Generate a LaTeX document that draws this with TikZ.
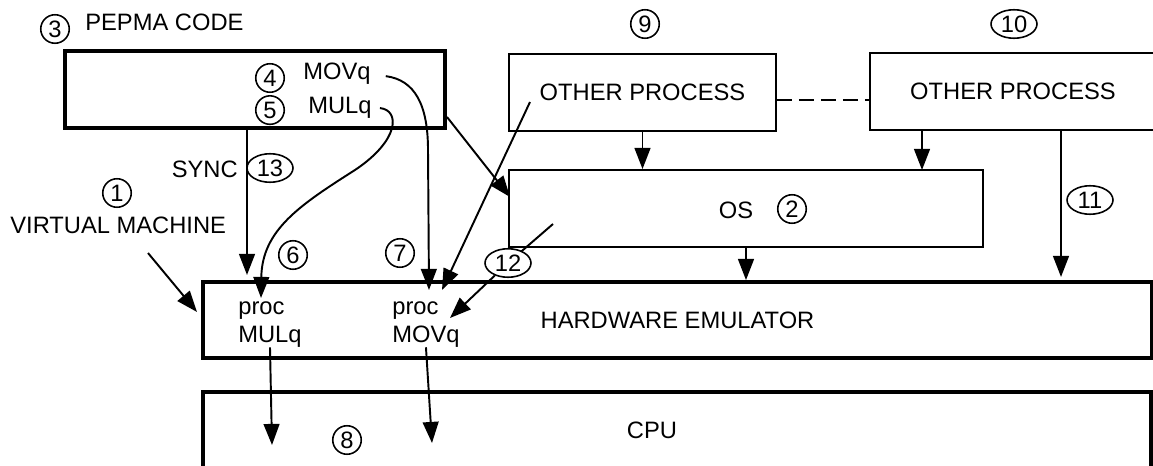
\documentclass[tikz,border=0pt]{standalone}
\usepackage{fontspec}
\setmainfont{Liberation Sans}
\usepackage{tikz}
\usetikzlibrary{arrows.meta, positioning, shapes.geometric}
\newcommand{\lblfont}{\fontsize{13.5}{15.4}\selectfont}

\begin{document}
\begin{tikzpicture}[
        x=0.02cm, y=-0.02cm,
        box/.style={
            rectangle,
            draw=black,
            line width=1.1pt,
            inner sep=0pt,
            align=center,
            font=\lblfont,
            minimum height=1.54cm
        },
        boxthick/.style={
            box,
            line width=2.2pt
        },
        txt/.style={
            inner sep=0pt,
            align=left,
            font=\lblfont
        },
        num/.style={
            circle,
            draw=black,
            line width=0.9pt,
            fill=white,
            inner sep=0pt,
            minimum size=0.57cm,
            font=\lblfont
        },
        numwide/.style={
            ellipse,
            draw=black,
            line width=0.9pt,
            fill=white,
            inner sep=0pt,
            minimum width=0.92cm,
            minimum height=0.57cm,
            font=\lblfont
        },
        arrow/.style={
            -{Triangle[length=12pt, width=9pt]},
            line width=1.1pt,
            draw=black
        },
        link/.style={
            line width=1.1pt,
            draw=black
        }
    ]
        \useasboundingbox (0,0) rectangle (1153,466);
        \clip (0,0) rectangle (1153,466);

        \node (pepma) [boxthick, minimum width=7.6cm] at (255,89.5) {};
        \node (other1) [box, minimum width=5.34cm] at (642.5,92.5) {OTHER PROCESS};
        \node (other2) [box, minimum width=5.72cm] at (1013,91.5) {OTHER PROCESS};
        \node (os) [box, minimum width=9.48cm] at (746,208.5) {};
        \node (hw) [boxthick, minimum width=18.98cm, minimum height=1.52cm] at (677.5,320) {HARDWARE EMULATOR};
        \node (cpu) [boxthick, minimum width=18.96cm, minimum height=2.16cm] at (677,446) {};

        \node (pepmalabel) [txt, anchor=base west] at (85,31) {PEPMA CODE};
        \node (movq) [txt, anchor=base west] at (303,80) {MOVq};
        \node (mulq) [txt, anchor=base west] at (308,113) {MULq};
        \node (sync) [txt, anchor=base east] at (238,177) {SYNC};
        \node (vm) [txt, anchor=base west] at (10,233) {VIRTUAL MACHINE};
        \node (procmul) [txt, anchor=base west] at (238,342) {proc\\MULq};
        \node (procmov) [txt, anchor=base west] at (392,342) {proc\\MOVq};
        \node (oslabel) [txt, anchor=base] at (736,218) {OS};
        \node (cpulabel) [txt, anchor=base] at (652,438) {CPU};

        \node (n1) [num] at (117,193) {1};
        \node (n2) [num] at (792,209) {2};
        \node (n3) [num] at (55,29) {3};
        \node (n4) [num] at (270,78) {4};
        \node (n5) [num, below=0.04cm of n4] {5};
        \node (n6) [num] at (293,255) {6};
        \node (n7) [num] at (400,253) {7};
        \node (n8) [num] at (347,440) {8};
        \node (n9) [num] at (645,24) {9};
        \node (n10) [numwide] at (1014,24) {10};
        \node (n11) [numwide] at (1090,200) {11};
        \node (n13) [numwide] at (270,168) {13};

        \coordinate (synctip) at (247,275);
        \coordinate (vmtail) at (148,253);
        \coordinate (vmtip) at (197,312);
        \coordinate (movtip) at (429,290);
        \coordinate (multip) at (261,298);
        \coordinate (pepout) at (447,117);
        \coordinate (osin) at (510,197);
        \coordinate (optail) at (530,102);
        \coordinate (optip) at (442,290);
        \coordinate (osstart) at (553,224);
        \coordinate (tip12) at (450,318);
        \coordinate (osin2) at (922,170);
        \coordinate (hwin11) at (1061,277);
        \coordinate (cpuin1) at (272,445);
        \coordinate (cpuin2) at (432,443);

        \draw [arrow] (pepma.south -| synctip) -- (synctip);
        \draw [arrow] (vmtail) -- (vmtip);
        \draw [arrow, shorten <=0.3cm] (movq.east) .. controls (415,80) and (428,105) .. (428,150) -- (movtip);
        \draw [arrow, shorten <=0.16cm] (mulq.east) .. controls (400,110) and (400,140) .. (355,170) .. controls (300,205) and (262,230) .. (multip);
        \draw [arrow] (pepout) -- (osin);
        \draw [arrow] (optail) -- (optip);
        \draw [link] (osstart) -- (508,263);
        \node (n12) [numwide] at (508,263) {12};
        \draw [arrow] (n12) -- (tip12);
        \draw [arrow] (other1.south) -- (other1.south |- os.north);
        \draw [arrow] (other2.south -| osin2) -- (osin2);
        \draw [arrow] (os.south) -- (os.south |- hw.north);
        \draw [arrow] (other2.south -| hwin11) -- (hwin11);
        \draw [link, dash pattern=on 8.5pt off 4pt] ([yshift=-0.15cm]other1.east) -- ([yshift=-0.15cm]other1.east -| other2.west);
        \draw [arrow] (procmul.south) -- (cpuin1);
        \draw [arrow] (procmov.south) -- (cpuin2);
    \end{tikzpicture}
\end{document}
